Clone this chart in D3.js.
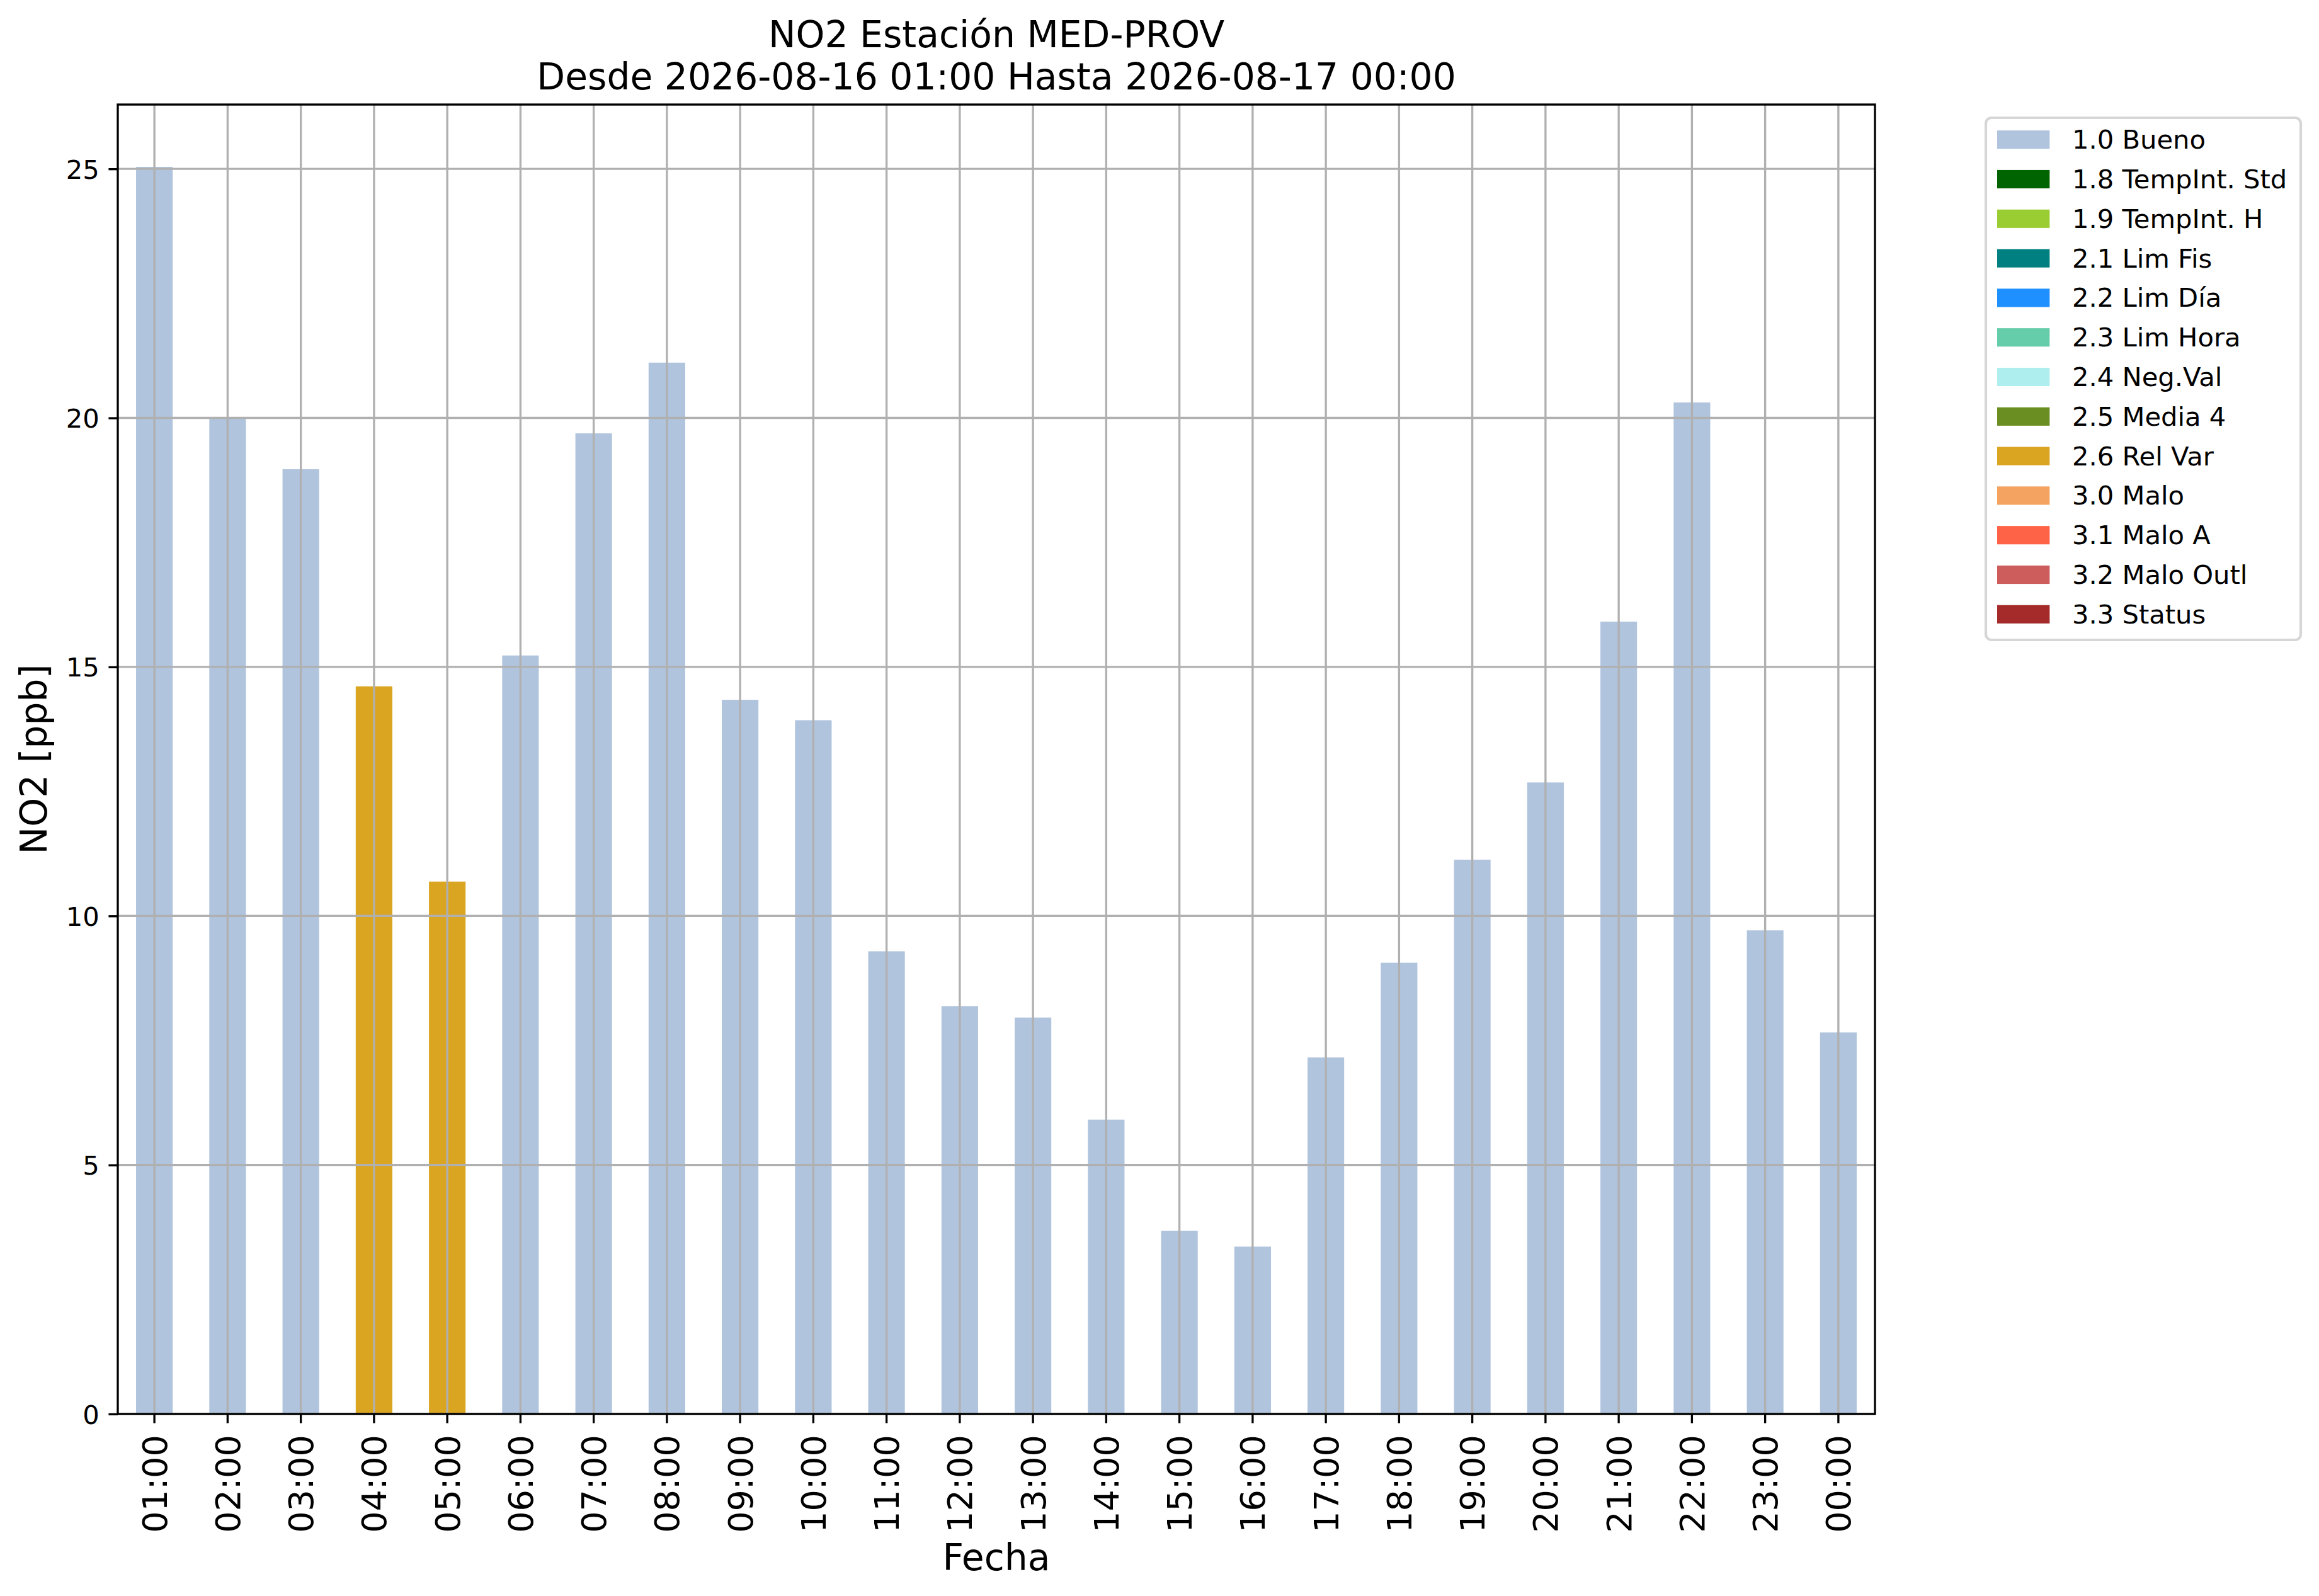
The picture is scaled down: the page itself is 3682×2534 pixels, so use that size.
<!DOCTYPE html>
<html>
<head>
<meta charset="utf-8">
<script src="https://cdn.jsdelivr.net/npm/d3@7"></script>
<style>
  html, body { margin: 0; padding: 0; background: #fff; }
  svg text { font-family: "DejaVu Sans", sans-serif; }
</style>
</head>
<body>
<div id="chart"></div>
<script>

// hourly labels (x axis)
var hours = ["01:00","02:00","03:00","04:00","05:00","06:00","07:00","08:00",
             "09:00","10:00","11:00","12:00","13:00","14:00","15:00","16:00",
             "17:00","18:00","19:00","20:00","21:00","22:00","23:00","00:00"];

// NO2 values [ppb]
var no2Values = [25.04, 20.01, 18.97, 14.61, 10.69, 15.23, 19.69, 21.11,
                 14.34, 13.93, 9.29, 8.19, 7.96, 5.91, 3.68, 3.36,
                 7.16, 9.06, 11.13, 12.68, 15.91, 20.31, 9.71, 7.66];

// validation flag of each hour
var flags = ["1.0","1.0","1.0","2.6","2.6","1.0","1.0","1.0",
             "1.0","1.0","1.0","1.0","1.0","1.0","1.0","1.0",
             "1.0","1.0","1.0","1.0","1.0","1.0","1.0","1.0"];

// legend: flag codes, names and colours
var flagCodes = ["1.0","1.8","1.9","2.1","2.2","2.3","2.4","2.5","2.6","3.0","3.1","3.2","3.3"];
var flagNames = ["Bueno","TempInt. Std","TempInt. H","Lim Fis","Lim Día","Lim Hora",
                 "Neg.Val","Media 4","Rel Var","Malo","Malo A","Malo Outl","Status"];
var flagColors = ["lightsteelblue","darkgreen","yellowgreen","teal","dodgerblue",
                  "mediumaquamarine","paleturquoise","olivedrab","goldenrod",
                  "sandybrown","tomato","indianred","brown"];

var yTicks = [0, 5, 10, 15, 20, 25];

var titleLines = ["NO2 Estación MED-PROV", "Desde 2026-08-16 01:00 Hasta 2026-08-17 00:00"];


//******************************************************************************
//**  Setup
//******************************************************************************
var width = 3682, height = 2534;
var plot = {left: 187, right: 2977, top: 166, bottom: 2245};
var pt = 300 / 72;   // figure was rendered at 300 dpi

var svg = d3.select("#chart").append("svg")
    .attr("width", width)
    .attr("height", height)
    .attr("viewBox", "0 0 " + width + " " + height);

svg.append("rect").attr("width", width).attr("height", height).attr("fill", "#fff");

var rows = hours.map(function(h, i){
    return {hour: h, value: no2Values[i], flag: flags[i]};
});

// x: pandas-like bar positions, xlim (-0.5, n-0.5)
var x = d3.scaleBand()
    .domain(hours)
    .range([plot.left, plot.right])
    .paddingInner(0.5)
    .paddingOuter(0.25);

// y: matplotlib margin of 5% above max
var yMax = d3.max(no2Values) * 1.05;
var y = d3.scaleLinear()
    .domain([0, yMax])
    .range([plot.bottom, plot.top]);

var color = d3.scaleOrdinal()
    .domain(flagCodes)
    .range(flagColors);

var center = function(h){ return x(h) + x.bandwidth() / 2; };


//******************************************************************************
//**  Bars
//******************************************************************************
svg.append("g")
    .selectAll("rect")
    .data(rows)
    .enter()
    .append("rect")
    .attr("x", function(d){ return x(d.hour); })
    .attr("y", function(d){ return y(d.value); })
    .attr("width", x.bandwidth())
    .attr("height", function(d){ return y(0) - y(d.value); })
    .attr("fill", function(d){ return color(d.flag); });


//******************************************************************************
//**  Grid (drawn over the bars, like matplotlib)
//******************************************************************************
var grid = svg.append("g")
    .attr("stroke", "#b0b0b0")
    .attr("stroke-width", 0.8 * pt);

grid.selectAll(".vgrid")
    .data(hours)
    .enter()
    .append("line")
    .attr("x1", center).attr("x2", center)
    .attr("y1", plot.top).attr("y2", plot.bottom);

grid.selectAll(".hgrid")
    .data(yTicks)
    .enter()
    .append("line")
    .attr("x1", plot.left).attr("x2", plot.right)
    .attr("y1", y).attr("y2", y);


//******************************************************************************
//**  Axes
//******************************************************************************
var xAxis = svg.append("g")
    .attr("transform", "translate(0," + plot.bottom + ")")
    .call(d3.axisBottom(x).tickSizeInner(3.5 * pt).tickSizeOuter(0).tickPadding(3.5 * pt));

xAxis.select(".domain").remove();
xAxis.selectAll(".tick line").attr("stroke", "#000").attr("stroke-width", 0.8 * pt);
xAxis.selectAll(".tick text")
    .attr("font-size", 54)
    .attr("fill", "#000")
    .attr("text-anchor", "end")
    .attr("transform", "rotate(-90)")
    .attr("x", -(3.5 * pt * 2 + 4))
    .attr("y", 0)
    .attr("dy", "0.36em");

var yAxis = svg.append("g")
    .attr("transform", "translate(" + plot.left + ",0)")
    .call(d3.axisLeft(y).tickValues(yTicks).tickFormat(d3.format("d"))
        .tickSizeInner(3.5 * pt).tickSizeOuter(0).tickPadding(3.5 * pt));

yAxis.select(".domain").remove();
yAxis.selectAll(".tick line").attr("stroke", "#000").attr("stroke-width", 0.8 * pt);
yAxis.selectAll(".tick text")
    .attr("font-size", 10 * pt)
    .attr("fill", "#000")
    .attr("dy", "0.36em");

// frame
svg.append("rect")
    .attr("x", plot.left)
    .attr("y", plot.top)
    .attr("width", plot.right - plot.left)
    .attr("height", plot.bottom - plot.top)
    .attr("fill", "none")
    .attr("stroke", "#000")
    .attr("stroke-width", 0.8 * pt);


//******************************************************************************
//**  Labels
//******************************************************************************
var plotMid = (plot.left + plot.right) / 2;

svg.append("text")
    .attr("x", plotMid)
    .attr("y", 2493)
    .attr("text-anchor", "middle")
    .attr("font-size", 14 * pt)
    .text("Fecha");

svg.append("text")
    .attr("transform", "translate(74," + ((plot.top + plot.bottom) / 2) + ") rotate(-90)")
    .attr("text-anchor", "middle")
    .attr("font-size", 14 * pt)
    .text("NO2 [ppb]");

svg.selectAll(".title")
    .data(titleLines)
    .enter()
    .append("text")
    .attr("x", plotMid)
    .attr("y", function(d, i){ return 75 + i * 67; })
    .attr("text-anchor", "middle")
    .attr("font-size", 14 * pt)
    .text(function(d){ return d; });


//******************************************************************************
//**  Legend
//******************************************************************************
var legend = svg.append("g");
var rowStep = 62.8, firstRow = 221.7;

legend.append("rect")
    .attr("x", 3153)
    .attr("y", 187)
    .attr("width", 3653 - 3153)
    .attr("height", 1016 - 187)
    .attr("rx", 9)
    .attr("fill", "#fff")
    .attr("stroke", "#d6d6d6")
    .attr("stroke-width", 1.0 * pt);

var items = legend.selectAll(".item")
    .data(flagCodes)
    .enter()
    .append("g")
    .attr("transform", function(d, i){ return "translate(0," + (firstRow + i * rowStep) + ")"; });

items.append("rect")
    .attr("x", 3171)
    .attr("y", -0.35 * 10 * pt)
    .attr("width", 2.0 * 10 * pt)
    .attr("height", 0.7 * 10 * pt)
    .attr("fill", function(d){ return color(d); });

items.append("text")
    .attr("x", 3290)
    .attr("y", 0)
    .attr("dy", "0.35em")
    .attr("font-size", 10 * pt)
    .text(function(d, i){ return d + " " + flagNames[i]; });

</script>
</body>
</html>
